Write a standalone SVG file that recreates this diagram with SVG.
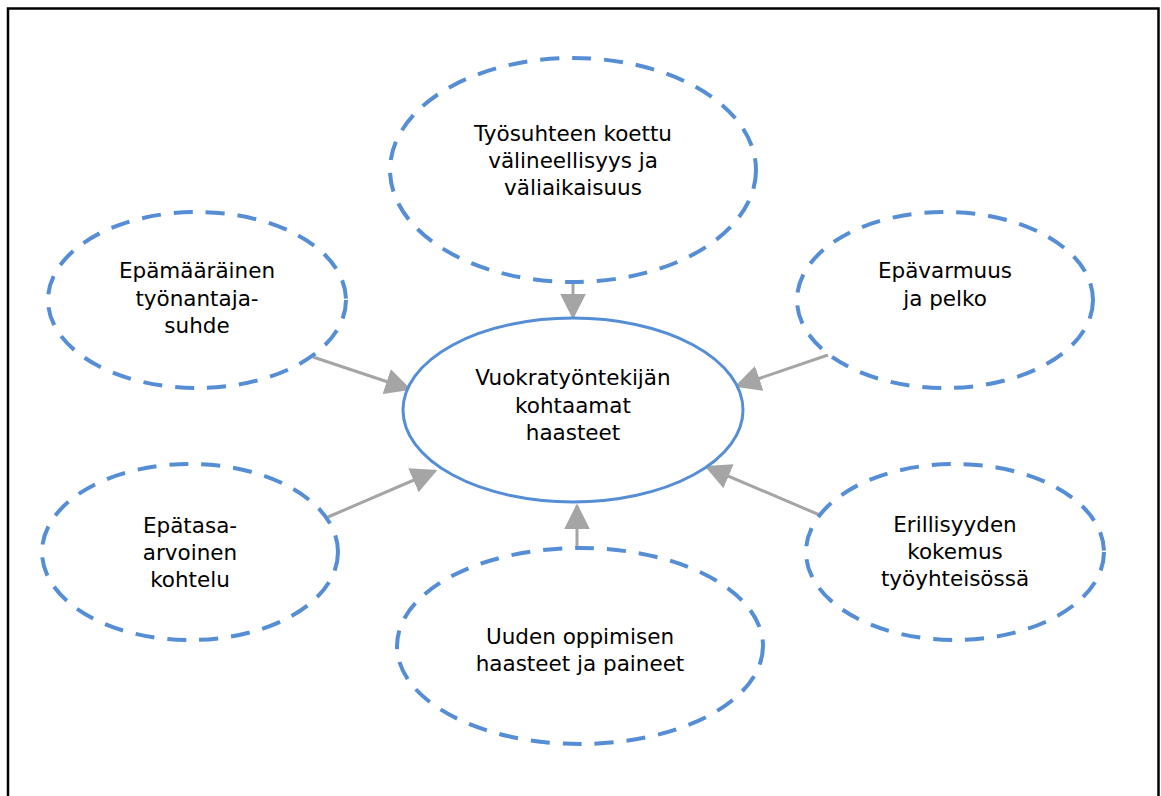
<svg xmlns="http://www.w3.org/2000/svg" width="1161" height="796" viewBox="0 0 1161 796">
  <defs>
    <style>
      .frame { fill: #ffffff; stroke: #000000; stroke-width: 2.5; }
      .core { fill: #ffffff; stroke: #558ED5; stroke-width: 3; }
      .factor { fill: #ffffff; stroke: #558ED5; stroke-width: 4; stroke-dasharray: 19 13; }
      .link { stroke: #A5A5A5; stroke-width: 3; fill: none; marker-end: url(#head); }
      text { font-family: "DejaVu Sans", Verdana, sans-serif; font-size: 21.5px; fill: #000000; text-anchor: middle; }
    </style>
    <marker id="head" viewBox="0 0 10 10" refX="9" refY="5" markerWidth="8.7" markerHeight="8.7" markerUnits="strokeWidth" orient="auto">
      <path d="M0,0 L10,5 L0,10 Z" fill="#A5A5A5"/>
    </marker>
  </defs>

  <rect class="frame" x="8" y="8.5" width="1150.5" height="800"/>

  <g id="connectors">
    <line class="link" x1="573" y1="271" x2="573" y2="317"/>
    <line class="link" x1="313" y1="357" x2="409" y2="389"/>
    <line class="link" x1="828" y1="355" x2="737" y2="386"/>
    <line class="link" x1="328" y1="517" x2="435" y2="471"/>
    <line class="link" x1="822" y1="516" x2="707" y2="467"/>
    <line class="link" x1="577" y1="549" x2="577" y2="506"/>
  </g>

  <g id="center">
    <ellipse class="core" cx="573" cy="410" rx="170" ry="92"/>
    <text x="573" y="385">Vuokratyöntekijän</text>
    <text x="573" y="413">kohtaamat</text>
    <text x="573" y="440">haasteet</text>
  </g>

  <g id="top">
    <ellipse class="factor" cx="573" cy="170" rx="183" ry="112"/>
    <text x="573" y="141">Työsuhteen koettu</text>
    <text x="573" y="168">välineellisyys ja</text>
    <text x="573" y="195">väliaikaisuus</text>
  </g>

  <g id="top-left">
    <ellipse class="factor" cx="197" cy="300" rx="149" ry="88"/>
    <text x="197" y="278">Epämääräinen</text>
    <text x="197" y="306">työnantaja-</text>
    <text x="197" y="333">suhde</text>
  </g>

  <g id="top-right">
    <ellipse class="factor" cx="945" cy="300" rx="148" ry="88"/>
    <text x="945" y="278">Epävarmuus</text>
    <text x="945" y="306">ja pelko</text>
  </g>

  <g id="bottom-left">
    <ellipse class="factor" cx="190" cy="552" rx="148" ry="88"/>
    <text x="190" y="533">Epätasa-</text>
    <text x="190" y="560">arvoinen</text>
    <text x="190" y="587">kohtelu</text>
  </g>

  <g id="bottom-right">
    <ellipse class="factor" cx="955" cy="552" rx="149" ry="88"/>
    <text x="955" y="532">Erillisyyden</text>
    <text x="955" y="559">kokemus</text>
    <text x="955" y="586">työyhteisössä</text>
  </g>

  <g id="bottom">
    <ellipse class="factor" cx="580" cy="646" rx="183" ry="98"/>
    <text x="580" y="644">Uuden oppimisen</text>
    <text x="580" y="671">haasteet ja paineet</text>
  </g>
</svg>
